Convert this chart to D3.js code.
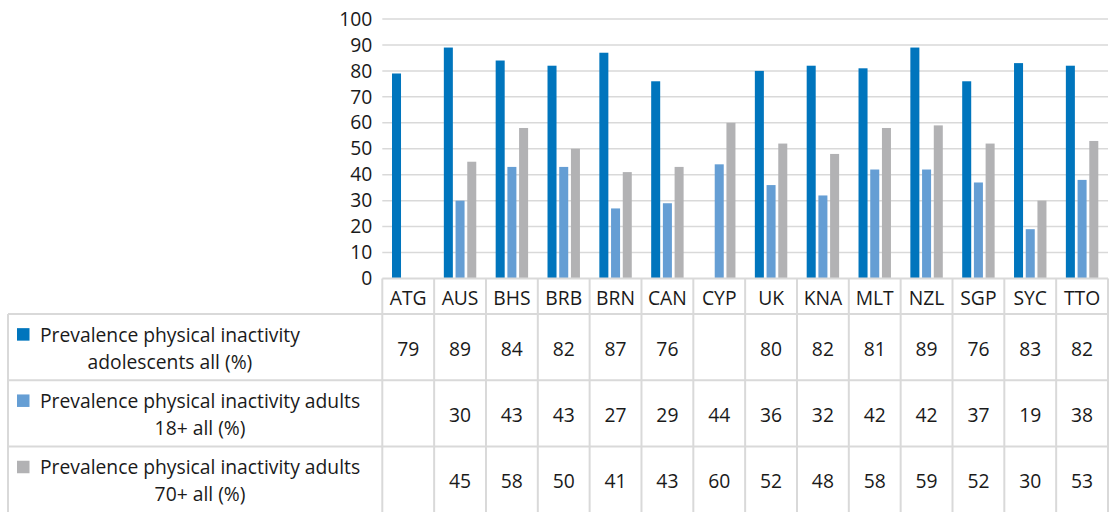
<!DOCTYPE html>
<html>
<head>
<meta charset="utf-8">
<script src="https://cdn.jsdelivr.net/npm/d3@7/dist/d3.min.js"></script>
<style>
  html, body { margin: 0; padding: 0; background: #ffffff; }
  svg { display: block; }
  text { font-family: "Open Sans", Lato, sans-serif; fill: #1a1a1a; }
</style>
</head>
<body>
<svg id="chart" width="1113" height="512"></svg>
<script>
// Countries along the x axis
const categories = ["ATG", "AUS", "BHS", "BRB", "BRN", "CAN", "CYP", "UK", "KNA", "MLT", "NZL", "SGP", "SYC", "TTO"];

// Series names (two lines each, as shown in the data table legend)
const seriesNames = [
  ["Prevalence physical inactivity", "adolescents all (%)"],
  ["Prevalence physical inactivity adults", "18+ all (%)"],
  ["Prevalence physical inactivity adults", "70+ all (%)"]
];

// Values per country; null where no data
const adolescents = [79, 89, 84, 82, 87, 76, null, 80, 82, 81, 89, 76, 83, 82];
const adults18 = [null, 30, 43, 43, 27, 29, 44, 36, 32, 42, 42, 37, 19, 38];
const adults70 = [null, 45, 58, 50, 41, 43, 60, 52, 48, 58, 59, 52, 30, 53];

const yTicks = [0, 10, 20, 30, 40, 50, 60, 70, 80, 90, 100];

const colors = ["#0075BD", "#659ED4", "#B2B2B4"];
const series = [adolescents, adults18, adults70];

const svg = d3.select("#chart");
const fontSize = 19.3;

// Geometry
const plotLeft = 382.3, plotRight = 1108;
const plotTop = 19, plotBottom = 278.5;
const tableLeft = 8;
const headerBottom = 314;
const rowH = 66.3;
const gridColor = "#D9D9D9";

const x = d3.scaleBand().domain(categories).range([plotLeft, plotRight]).paddingInner(0).paddingOuter(0);
const xs = d3.scaleBand().domain(d3.range(series.length))
  .range([9.7, x.bandwidth() - 9.7]).paddingInner(0.23).paddingOuter(0);
const y = d3.scaleLinear().domain([0, 100]).range([plotBottom, plotTop]);

// Horizontal gridlines
svg.append("g").selectAll("line").data(yTicks.filter(t => t > 0)).join("line")
  .attr("x1", plotLeft).attr("x2", plotRight)
  .attr("y1", d => y(d)).attr("y2", d => y(d))
  .attr("stroke", gridColor).attr("stroke-width", 1.5);

// Y axis labels
const yAxis = d3.axisLeft(y).tickValues(yTicks).tickSize(0).tickPadding(10);
const yg = svg.append("g").attr("transform", `translate(${plotLeft},0)`).call(yAxis);
yg.select(".domain").remove();
yg.selectAll("text").attr("font-size", fontSize).attr("fill", "#1a1a1a")
  .style("font-family", "'Open Sans', Lato, sans-serif");

// Bars
const groups = svg.append("g").selectAll("g").data(categories).join("g")
  .attr("transform", d => `translate(${x(d)},0)`);
groups.selectAll("rect")
  .data((d, i) => series.map((s, k) => ({ k, v: s[i] })).filter(e => e.v !== null))
  .join("rect")
  .attr("x", e => xs(e.k))
  .attr("width", xs.bandwidth())
  .attr("y", e => y(e.v))
  .attr("height", e => y(0) - y(e.v))
  .attr("fill", e => colors[e.k]);

// Table grid
const tableBottom = headerBottom + rowH * series.length;
const grid = svg.append("g").attr("stroke", gridColor).attr("stroke-width", 2).attr("fill", "none");
// axis / header top line
grid.append("line").attr("x1", plotLeft).attr("x2", plotRight).attr("y1", plotBottom).attr("y2", plotBottom);
// row lines
d3.range(series.length + 1).forEach(r => {
  const yy = headerBottom + r * rowH;
  grid.append("line").attr("x1", tableLeft).attr("x2", plotRight).attr("y1", yy).attr("y2", yy);
});
// vertical lines
grid.append("line").attr("x1", tableLeft).attr("x2", tableLeft).attr("y1", headerBottom).attr("y2", tableBottom);
categories.forEach(c => {
  grid.append("line").attr("x1", x(c)).attr("x2", x(c)).attr("y1", plotBottom).attr("y2", tableBottom);
});
grid.append("line").attr("x1", plotRight).attr("x2", plotRight).attr("y1", plotBottom).attr("y2", tableBottom);

// Category labels in header row
svg.append("g").selectAll("text").data(categories).join("text")
  .attr("x", d => x(d) + x.bandwidth() / 2)
  .attr("y", (plotBottom + headerBottom) / 2 + 1)
  .attr("text-anchor", "middle").attr("dominant-baseline", "central")
  .attr("font-size", fontSize)
  .text(d => d);

// Value cells
series.forEach((s, r) => {
  const cy = headerBottom + r * rowH + rowH / 2 + 1;
  svg.append("g").selectAll("text").data(categories).join("text")
    .attr("x", d => x(d) + x.bandwidth() / 2)
    .attr("y", cy)
    .attr("text-anchor", "middle").attr("dominant-baseline", "central")
    .attr("font-size", fontSize)
    .text((d, i) => s[i] === null ? "" : s[i]);
});

// Legend keys and series names
seriesNames.forEach((lines, r) => {
  const cy = headerBottom + r * rowH + rowH / 2;
  svg.append("rect").attr("x", 17).attr("y", cy - 19).attr("width", 12.5).attr("height", 12.5)
    .attr("fill", colors[r]);
  const g = svg.append("g");
  const texts = lines.map((t, li) => g.append("text")
    .attr("y", cy - 13 + li * 27)
    .attr("dominant-baseline", "central")
    .attr("font-size", fontSize)
    .attr("text-anchor", "middle")
    .text(t));
  const maxW = d3.max(texts, t => t.node().getComputedTextLength());
  texts.forEach(t => t.attr("x", 40 + maxW / 2));
});
</script>
</body>
</html>
